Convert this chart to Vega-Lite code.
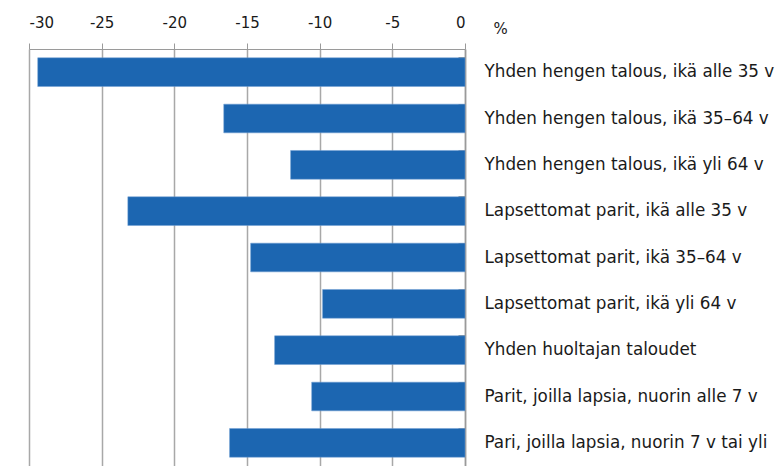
{
  "$schema": "https://vega.github.io/schema/vega-lite/v6.json",
  "autosize": "none",
  "width": 436,
  "height": 417,
  "padding": {"left": 29, "top": 49, "right": 311, "bottom": 0},
  "background": "white",
  "data": {
    "values": [
      {"ryhma": "Yhden hengen talous, ikä alle 35 v", "muutos": -29.4},
      {"ryhma": "Yhden hengen talous, ikä 35–64 v", "muutos": -16.6},
      {"ryhma": "Yhden hengen talous, ikä yli 64 v", "muutos": -12.0},
      {"ryhma": "Lapsettomat parit, ikä alle 35 v", "muutos": -23.2},
      {"ryhma": "Lapsettomat parit, ikä 35–64 v", "muutos": -14.75},
      {"ryhma": "Lapsettomat parit, ikä yli 64 v", "muutos": -9.8},
      {"ryhma": "Yhden huoltajan taloudet", "muutos": -13.1},
      {"ryhma": "Parit, joilla lapsia, nuorin alle 7 v", "muutos": -10.55},
      {"ryhma": "Pari, joilla lapsia, nuorin 7 v tai yli", "muutos": -16.2}
    ]
  },
  "mark": {"type": "bar", "color": "#1c66b1", "stroke": "#6f9fd3", "strokeWidth": 0.5},
  "encoding": {
    "x": {
      "field": "muutos",
      "type": "quantitative",
      "scale": {"domain": [-30, 0], "nice": false, "zero": false},
      "axis": {
        "orient": "top",
        "values": [-30, -25, -20, -15, -10, -5, 0],
        "labelExpr": "replace(datum.label, '−', '-')",
        "title": "%",
        "titleX": 464,
        "titleY": -21,
        "titleAlign": "left",
        "titleBaseline": "middle",
        "titleFont": "DejaVu Sans",
        "titleFontSize": 15,
        "titleFontWeight": "normal",
        "titleColor": "#1a1a1a",
        "labelFont": "DejaVu Sans",
        "labelFontSize": 15,
        "labelColor": "#1a1a1a",
        "labelPadding": 13,
        "domainColor": "#9a9a9a",
        "tickColor": "#9a9a9a",
        "tickSize": 6,
        "grid": true,
        "gridColor": "#a8a8a8",
        "gridWidth": 1.5
      }
    },
    "y": {
      "field": "ryhma",
      "type": "nominal",
      "sort": null,
      "scale": {"paddingInner": 0.38, "paddingOuter": 0.19},
      "axis": {
        "orient": "right",
        "title": null,
        "bandPosition": 0,
        "tickSize": -7,
        "tickColor": "#9a9a9a",
        "domainColor": "#9a9a9a",
        "domainWidth": 1.5,
        "labelFont": "DejaVu Sans",
        "labelFontSize": 16.8,
        "labelColor": "#1a1a1a",
        "labelPadding": 26,
        "labelLimit": 400,
        "labelAlign": "left"
      }
    }
  },
  "config": {"view": {"stroke": null}}
}
